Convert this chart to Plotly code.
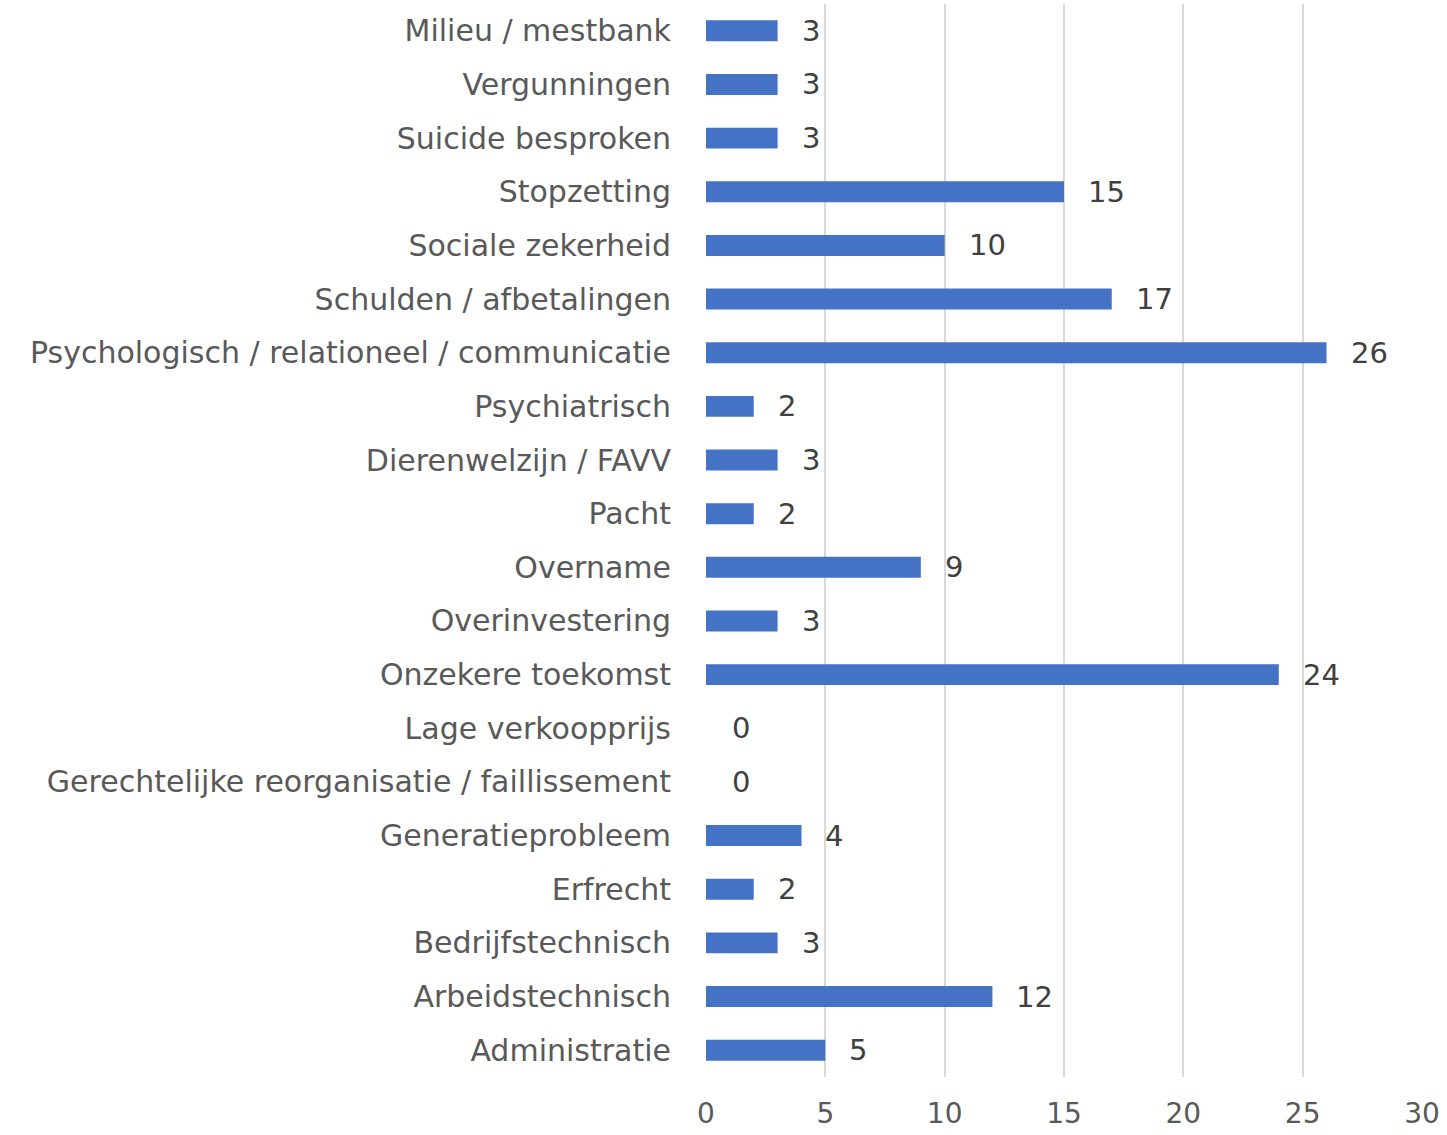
import plotly.graph_objects as go

categories = [
    "Administratie",
    "Arbeidstechnisch",
    "Bedrijfstechnisch",
    "Erfrecht",
    "Generatieprobleem",
    "Gerechtelijke reorganisatie / faillissement",
    "Lage verkoopprijs",
    "Onzekere toekomst",
    "Overinvestering",
    "Overname",
    "Pacht",
    "Dierenwelzijn / FAVV",
    "Psychiatrisch",
    "Psychologisch / relationeel / communicatie",
    "Schulden / afbetalingen",
    "Sociale zekerheid",
    "Stopzetting",
    "Suicide besproken",
    "Vergunningen",
    "Milieu / mestbank",
]
values = [5, 12, 3, 2, 4, 0, 0, 24, 3, 9, 2, 3, 2, 26, 17, 10, 15, 3, 3, 3]
x_ticks = [0, 5, 10, 15, 20, 25, 30]

FONT = "DejaVu Sans"
FS = 30

fig = go.Figure(
    go.Bar(
        x=values,
        y=categories,
        orientation="h",
        marker=dict(color="#4472C4", line=dict(width=0)),
        hoverinfo="x+y",
    )
)

for c, v in zip(categories, values):
    fig.add_annotation(
        x=v, y=c, text=str(v), showarrow=False,
        xanchor="left", xshift=22 if v > 0 else 24,
        font=dict(family=FONT, size=FS - 1, color="#404040"),
    )

fig.update_layout(
    width=1447, height=1135,
    margin=dict(l=706, r=25, t=4, b=58, autoexpand=False),
    paper_bgcolor="white", plot_bgcolor="white",
    bargap=0.61,
    showlegend=False,
    font=dict(family=FONT, size=FS, color="#595959"),
)
fig.update_xaxes(
    range=[0, 30], tickvals=x_ticks, showgrid=True, gridcolor="#D9D9D9", gridwidth=2,
    zeroline=False, showline=False, ticks="",
    tickfont=dict(family=FONT, size=FS - 2, color="#595959"), ticklabelstandoff=17,
)
fig.update_yaxes(
    categoryorder="array", categoryarray=categories,
    showgrid=False, zeroline=False, showline=False, ticks="",
    tickfont=dict(family=FONT, size=FS, color="#595959"), ticklabelstandoff=34,
)

fig.write_html(
    "out.html",
    config={"displayModeBar": False},
    post_script="document.body.style.margin='0';",
)
